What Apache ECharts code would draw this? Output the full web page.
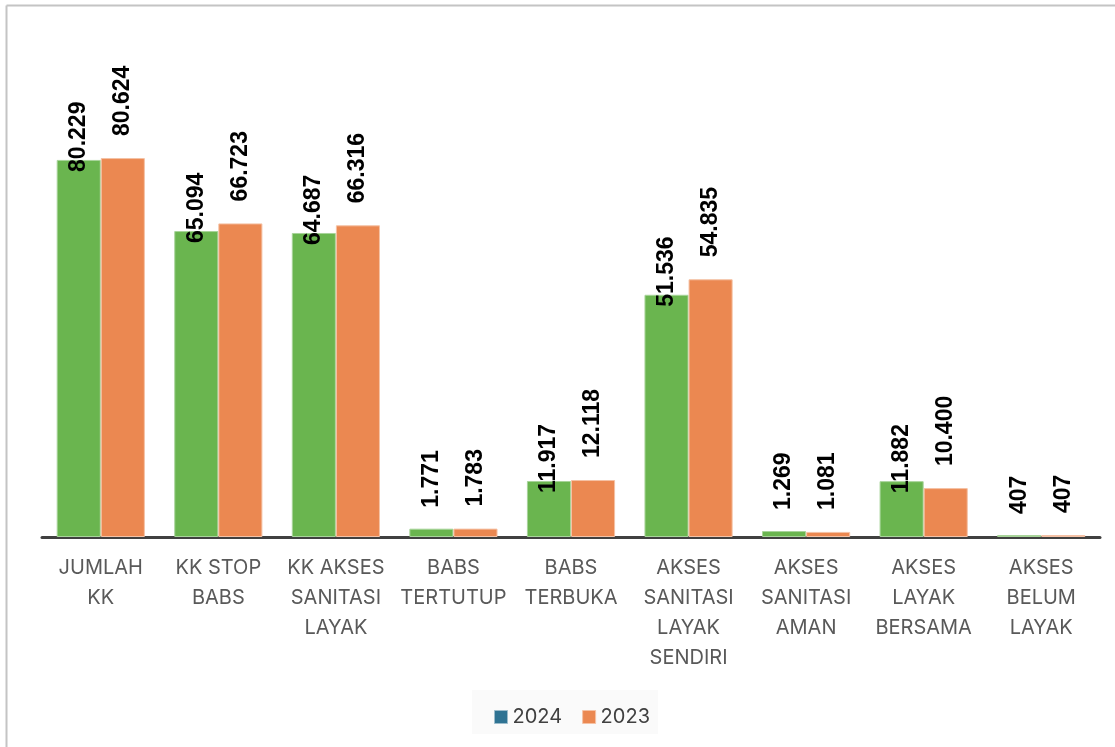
<!DOCTYPE html>
<html>
<head>
<meta charset="utf-8">
<script src="https://cdn.jsdelivr.net/npm/echarts@6/dist/echarts.min.js"></script>
<style>
html, body { margin: 0; padding: 0; background: #fff; }
#chart { width: 1115px; height: 747px; }
</style>
</head>
<body>
<div id="chart"></div>
<script>
const categories = [
    "JUMLAH\nKK",
    "KK STOP\nBABS",
    "KK AKSES\nSANITASI\nLAYAK",
    "BABS\nTERTUTUP",
    "BABS\nTERBUKA",
    "AKSES\nSANITASI\nLAYAK\nSENDIRI",
    "AKSES\nSANITASI\nAMAN",
    "AKSES\nLAYAK\nBERSAMA",
    "AKSES\nBELUM\nLAYAK"
];

const values2024 = [80229, 65094, 64687, 1771, 11917, 51536, 1269, 11882, 407];
const values2023 = [80624, 66723, 66316, 1783, 12118, 54835, 1081, 10400, 407];

const GREEN = "#6ab54f";
const ORANGE = "#eb8851";
const LEGEND_2024 = "#2f7393";

function fmt(v) {
    return String(v).replace(/\B(?=(\d{3})+(?!\d))/g, ".");
}

function labelFor(v, dist) {
    return {
        show: true,
        position: "top",
        rotate: 90,
        align: "left",
        verticalAlign: "middle",
        distance: dist,
        color: "#000",
        fontFamily: "Liberation Sans",
        fontWeight: "bold",
        fontSize: 23,
        formatter: () => fmt(v)
    };
}

const chart = echarts.init(document.getElementById("chart"));

chart.setOption({
    animation: false,
    graphic: [
        {
            type: "line",
            shape: { x1: 6.5, y1: 5.5, x2: 1115, y2: 5.5 },
            style: { stroke: "#c4c4c4", lineWidth: 2 }
        },
        {
            type: "line",
            shape: { x1: 6.5, y1: 5.5, x2: 6.5, y2: 747 },
            style: { stroke: "#c4c4c4", lineWidth: 2 }
        },
        {
            type: "rect",
            shape: { x: 472, y: 690, width: 186, height: 44 },
            style: { fill: "#fafafa" },
            z: -1
        }
    ],
    legend: {
        top: 702,
        left: 489,
        itemWidth: 13,
        itemHeight: 13,
        itemGap: 20,
        icon: "rect",
        textStyle: { color: "#404040", fontSize: 20, fontFamily: "Inter" },
        data: [
            { name: "2024", itemStyle: { color: LEGEND_2024, borderColor: "#9cbccb", borderWidth: 1 } },
            { name: "2023", itemStyle: { color: ORANGE, borderColor: "#f5c2a5", borderWidth: 1 } }
        ]
    },
    grid: {
        left: 42,
        right: 15,
        top: 114,
        bottom: 210,
        containLabel: false
    },
    xAxis: {
        type: "category",
        data: categories,
        axisLine: { show: true, lineStyle: { color: "#404040", width: 3 } },
        axisTick: { show: false },
        axisLabel: {
            color: "#595959",
            fontSize: 20,
            fontFamily: "Inter",
            lineHeight: 30,
            margin: 16,
            interval: 0
        }
    },
    yAxis: {
        type: "value",
        min: 0,
        max: 90000,
        show: false,
        splitLine: { show: false }
    },
    series: [
        {
            name: "2024",
            type: "bar",
            barGap: "0%",
            barCategoryGap: "25%",
            itemStyle: { color: GREEN, borderColor: "#a8d49a", borderWidth: 1 },
            data: values2024.map(v => ({
                value: v,
                label: labelFor(v, v > 5000 ? -12 : 21)
            }))
        },
        {
            name: "2023",
            type: "bar",
            itemStyle: { color: ORANGE, borderColor: "#f5c2a5", borderWidth: 1 },
            data: values2023.map(v => ({
                value: v,
                label: labelFor(v, 22)
            }))
        }
    ]
});
</script>
</body>
</html>
